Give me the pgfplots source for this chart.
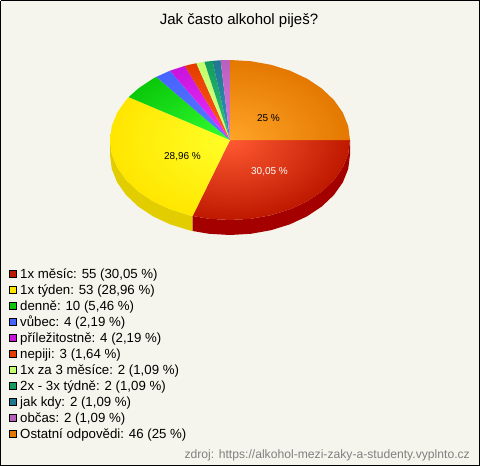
\documentclass[border=0pt]{standalone}
\usepackage{pgfplots}
\pgfplotsset{compat=1.18}
\usepackage{fontspec}
\setmainfont{Liberation Sans}

\definecolor{bgpage}{RGB}{245,245,237}
\definecolor{srcgray}{RGB}{128,128,128}
% side of the pie
\definecolor{sidered}{RGB}{165,0,0}
\definecolor{sideyel}{RGB}{225,205,0}
% slice colours: a = near the centre, b = at the rim
\definecolor{ra}{RGB}{255,90,50}   \definecolor{rb}{RGB}{190,25,0}
\definecolor{ya}{RGB}{255,255,40}  \definecolor{yb}{RGB}{255,230,0}
\definecolor{ga}{RGB}{50,255,50}   \definecolor{gb}{RGB}{10,200,10}
\definecolor{ba}{RGB}{90,120,255}  \definecolor{bb}{RGB}{70,100,255}
\definecolor{ma}{RGB}{240,50,255}  \definecolor{mb}{RGB}{200,20,220}
\definecolor{na}{RGB}{255,90,30}   \definecolor{nb}{RGB}{230,60,0}
\definecolor{la}{RGB}{215,255,130} \definecolor{lb}{RGB}{195,255,110}
\definecolor{ka}{RGB}{40,200,120}  \definecolor{kb}{RGB}{20,155,95}
\definecolor{ta}{RGB}{50,150,180}  \definecolor{tb}{RGB}{30,120,145}
\definecolor{pa}{RGB}{220,120,230} \definecolor{pb}{RGB}{185,95,190}
\definecolor{oa}{RGB}{255,165,40}  \definecolor{ob}{RGB}{228,120,0}

\newcommand{\slicefade}[3]{\pgfdeclareradialshading{#1}{\pgfpointorigin}{color(0bp)=(#2); color(25bp)=(#3); color(50bp)=(#3)}}
\slicefade{fr}{ra}{rb}
\slicefade{fy}{ya}{yb}
\slicefade{fg}{ga}{gb}
\slicefade{fb}{ba}{bb}
\slicefade{fm}{ma}{mb}
\slicefade{fn}{na}{nb}
\slicefade{fl}{la}{lb}
\slicefade{fk}{ka}{kb}
\slicefade{ft}{ta}{tb}
\slicefade{fp}{pa}{pb}
\slicefade{fo}{oa}{ob}

\pgfplotsset{
  slice/.style={shade, shading=#1, draw=none, forget plot},
  box/.style={only marks, mark=square*, mark size=3.75pt,
    mark options={fill=#1, draw=black, line width=0.8pt}, forget plot},
}
\newcommand{\rowtext}[2]{\node[anchor=west, inner sep=0pt, text=black, font=\fontsize{13.25}{15}\selectfont] at (axis cs:20,#1) {#2};}

\begin{document}
\begin{tikzpicture}
\begin{axis}[
  scale only axis, width=480pt, height=466pt,
  xmin=0, xmax=480, ymin=0, ymax=466, y dir=reverse,
  hide axis, clip=false, unbounded coords=jump,
]
% page and frame
\addplot[fill=bgpage, draw=black, line width=1pt, forget plot] coordinates {
  (0.5,0.5) (479.5,0.5) (479.5,465.5) (0.5,465.5) (0.5,0.5)};

% side of the pie
\addplot[fill=sideyel, draw=none, forget plot] coordinates {
  (192.6,216) (189,215.2) (170,209.3) (152.9,201.3) (138.1,191.4) (126.1,180)
  (117.2,167.4) (111.8,153.9) (110,140) (110,155) (111.8,168.9) (117.2,182.4)
  (126.1,195) (138.1,206.4) (152.9,216.3) (170,224.3) (189,230.2) (192.6,231)};
\addplot[fill=sidered, draw=none, forget plot] coordinates {
  (350,140) (348.2,153.9) (342.8,167.4) (333.9,180) (321.9,191.4) (307.1,201.3)
  (290,209.3) (271,215.2) (250.8,218.8) (230,220) (209.2,218.8) (192.6,216)
  (192.6,231) (209.2,233.8) (230,235) (250.8,233.8) (271,230.2) (290,224.3)
  (307.1,216.3) (321.9,206.4) (333.9,195) (342.8,182.4) (348.2,168.9) (350,155)};

% top of the pie: the two lone points give each slice the same shading box
% 1x mesic 30,05 %
\addplot[slice=fr] coordinates {
  (110,60) (nan,nan) (350,220) (nan,nan)
  (230,140) (350,140) (348.2,153.9) (342.8,167.4) (333.9,180) (321.9,191.4)
  (307.1,201.3) (290,209.3) (271,215.2) (250.8,218.8) (230,220) (209.2,218.8)
  (192.6,216)};
% 1x tyden 28,96 %
\addplot[slice=fy] coordinates {
  (110,60) (nan,nan) (350,220) (nan,nan)
  (230,140) (192.6,216) (189,215.2) (170,209.3) (152.9,201.3) (138.1,191.4)
  (126.1,180) (117.2,167.4) (111.8,153.9) (110,140) (111.8,126.1) (117.2,112.6)
  (126.1,100) (128.7,97.1)};
% denne 5,46 %
\addplot[slice=fg] coordinates {
  (110,60) (nan,nan) (350,220) (nan,nan)
  (230,140) (128.7,97.1) (138.1,88.6) (152.9,78.7) (156.3,76.9)};
% vubec 2,19 %
\addplot[slice=fb] coordinates {
  (110,60) (nan,nan) (350,220) (nan,nan)
  (230,140) (156.3,76.9) (170,70.7)};
% prilezitostne 2,19 %
\addplot[slice=fm] coordinates {
  (110,60) (nan,nan) (350,220) (nan,nan)
  (230,140) (170,70.7) (184.8,65.9)};
% nepiji 1,64 %
\addplot[slice=fn] coordinates {
  (110,60) (nan,nan) (350,220) (nan,nan)
  (230,140) (184.8,65.9) (189,64.8) (196.4,63.2)};
% 1x za 3 mesice 1,09 %
\addplot[slice=fl] coordinates {
  (110,60) (nan,nan) (350,220) (nan,nan)
  (230,140) (196.4,63.2) (204.4,61.8)};
% 2x - 3x tydne 1,09 %
\addplot[slice=fk] coordinates {
  (110,60) (nan,nan) (350,220) (nan,nan)
  (230,140) (204.4,61.8) (212.5,60.9)};
% jak kdy 1,09 %
\addplot[slice=ft] coordinates {
  (110,60) (nan,nan) (350,220) (nan,nan)
  (230,140) (212.5,60.9) (220.6,60.2)};
% obcas 1,09 %
\addplot[slice=fp] coordinates {
  (110,60) (nan,nan) (350,220) (nan,nan)
  (230,140) (220.6,60.2) (230,60)};
% ostatni 25 %
\addplot[slice=fo] coordinates {
  (110,60) (nan,nan) (350,220) (nan,nan)
  (230,140) (230,60) (250.8,61.2) (271,64.8) (290,70.7) (307.1,78.7) (321.9,88.6)
  (333.9,100) (342.8,112.6) (348.2,126.1) (350,140)};

% legend boxes
\addplot[box=rb] coordinates {(13,274)};
\addplot[box=yb] coordinates {(13,290)};
\addplot[box=gb] coordinates {(13,306)};
\addplot[box=bb] coordinates {(13,322)};
\addplot[box=mb] coordinates {(13,338)};
\addplot[box=nb] coordinates {(13,354)};
\addplot[box=lb] coordinates {(13,370)};
\addplot[box=kb] coordinates {(13,386)};
\addplot[box=tb] coordinates {(13,402)};
\addplot[box=pb] coordinates {(13,418)};
\addplot[box=ob] coordinates {(13,434)};

\rowtext{275}{1x měsíc: 55 (30,05 \%)}
\rowtext{291}{1x týden: 53 (28,96 \%)}
\rowtext{307}{denně: 10 (5,46 \%)}
\rowtext{323}{vůbec: 4 (2,19 \%)}
\rowtext{339}{příležitostně: 4 (2,19 \%)}
\rowtext{355}{nepiji: 3 (1,64 \%)}
\rowtext{371}{1x za 3 měsíce: 2 (1,09 \%)}
\rowtext{387}{2x - 3x týdně: 2 (1,09 \%)}
\rowtext{403}{jak kdy: 2 (1,09 \%)}
\rowtext{419}{občas: 2 (1,09 \%)}
\rowtext{435}{Ostatní odpovědi: 46 (25 \%)}

\node[font=\fontsize{15}{17}\selectfont] at (axis cs:239,20.5) {Jak často alkohol piješ?};
\node[font=\fontsize{10}{12}\selectfont, text=white] at (axis cs:269.5,172) {30,05 \%};
\node[font=\fontsize{10}{12}\selectfont] at (axis cs:182.5,157) {28,96 \%};
\node[font=\fontsize{10}{12}\selectfont] at (axis cs:268.5,118) {25 \%};
\node[anchor=east, inner sep=0pt, text=srcgray, font=\fontsize{12.15}{14}\selectfont] at (axis cs:470,455) {zdroj: https://alkohol-mezi-zaky-a-studenty.vyplnto.cz};
\end{axis}
\end{tikzpicture}
\end{document}
